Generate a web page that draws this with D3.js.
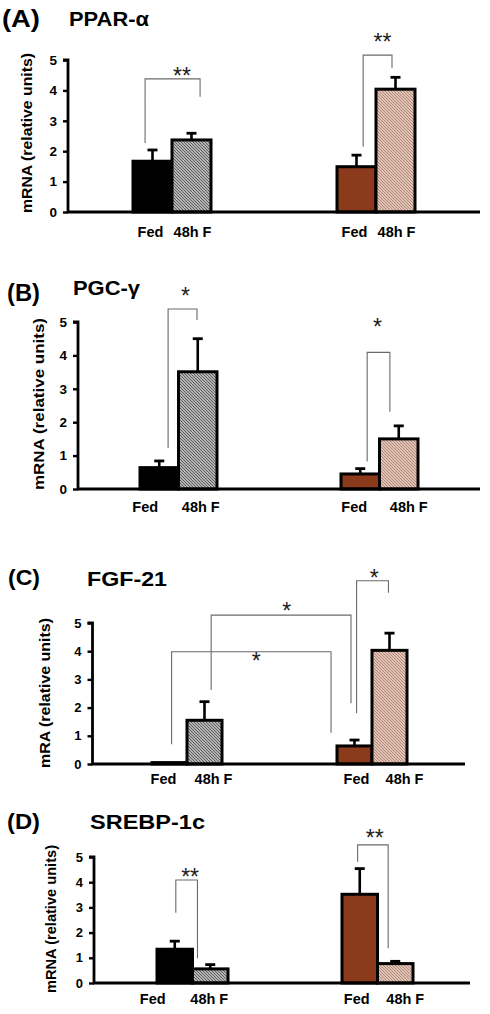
<!DOCTYPE html>
<html><head><meta charset="utf-8">
<script src="https://cdn.jsdelivr.net/npm/d3@7"></script>
<style>
html,body{margin:0;padding:0;background:#fff;}
svg{display:block;font-family:"Liberation Sans",Arial,sans-serif;}
</style></head>
<body>
<svg id="chart" width="490" height="1014"></svg>
<script>
// ---------------- data ----------------
const panelTags = ["(A)", "(B)", "(C)", "(D)"];
const geneNames = ["PPAR-α", "PGC-γ", "FGF-21", "SREBP-1c"];
const yAxisTitles = ["mRNA (relative units)", "mRNA (relative units)", "mRA (relative units)", "mRNA (relative units)"];
const conditions = ["Fed", "48h F"];
const groups = ["group1", "group2"];
const yTickValues = [0, 1, 2, 3, 4, 5];
// bar order: group1 Fed, group1 48h F, group2 Fed, group2 48h F
const valuesA = [1.67, 2.37, 1.49, 4.04];
const errorsA = [0.37, 0.22, 0.38, 0.39];
const valuesB = [0.64, 3.51, 0.45, 1.50];
const errorsB = [0.20, 0.99, 0.16, 0.39];
const valuesC = [0.05, 1.55, 0.64, 4.03];
const errorsC = [0.00, 0.66, 0.21, 0.61];
const valuesD = [1.34, 0.56, 3.52, 0.77];
const errorsD = [0.32, 0.17, 1.02, 0.09];
// significance brackets: ends as [bar, fraction of bar], heights in data units
const bracketsA = [
  {a:[0,0.31], b:[1,0.72], top:4.38, aLow:2.27, bLow:3.79, t:0.67, starY:4.59, label:"**"},
  {a:[2,0.67], b:[3,0.41], top:5.16, aLow:2.15, bLow:4.74, t:0.67, starY:5.72, label:"**"}
];
const bracketsB = [
  {a:[0,0.73], b:[1,0.48], top:5.39, aLow:1.23, bLow:5.06, t:0.6, starY:5.91, label:"*"},
  {a:[2,0.68], b:[3,0.27], top:4.09, aLow:0.82, bLow:2.31, t:0.45, starY:4.97, label:"*"}
];
const bracketsC = [
  {a:[0,0.56], b:[2,-0.17], top:3.98, aLow:0.70, bLow:1.11, t:0.53, starY:3.80, label:"*"},
  {a:[1,0.69], b:[2,0.40], top:5.28, aLow:2.62, bLow:2.15, t:0.54, starY:5.58, label:"*"},
  {a:[2,0.56], b:[3,0.47], top:6.50, aLow:1.80, bLow:6.07, t:0.55, starY:6.74, label:"*"}
];
const bracketsD = [
  {a:[0,0.53], b:[1,0.14], top:4.09, aLow:2.79, bLow:0.98, t:0.66, starY:4.37, label:"**"},
  {a:[2,0.44], b:[3,0.30], top:5.48, aLow:4.81, bLow:1.38, t:0.56, starY:5.91, label:"**"}
];

const allValues = [valuesA, valuesB, valuesC, valuesD];
const allErrors = [errorsA, errorsB, errorsC, errorsD];
const allBrackets = [bracketsA, bracketsB, bracketsC, bracketsD];

// ---------------- layout (positions & styles) ----------------
const layout = [
  {ax:68, y0:212, y5:60, xEnd:480, gr:[133,415], bw:39, lblY:237, lblDx:[-2,1,-2,1],
   tag:{x:2,y:27,fs:24,len:38}, gene:{x:69,y:26,fs:20,len:80},
   yt:{x:27,y:133,len:160}, tickFs:13.5},
  {ax:78, y0:489, y5:322, xEnd:480, gr:[140,418], bw:38.5, lblY:512, lblDx:[-14,3,-6,10],
   tag:{x:7,y:301,fs:24,len:33}, gene:{x:73,y:295,fs:21,len:67},
   yt:{x:39,y:404,len:172}, tickFs:13.5},
  {ax:92.5, y0:764, y5:623, xEnd:465, gr:[152,407], bw:35, lblY:784, lblDx:[-6,9,2,15],
   tag:{x:8,y:585,fs:22,len:32}, gene:{x:87,y:586,fs:21,len:80},
   yt:{x:45,y:693,len:150}, tickFs:13},
  {ax:94, y0:983, y5:857, xEnd:470, gr:[157,413], bw:35.5, lblY:1004, lblDx:[-22,-1,-3,10],
   tag:{x:7,y:829,fs:22,len:33}, gene:{x:90,y:829,fs:21,len:115},
   yt:{x:51,y:919,len:148}, tickFs:13}
];

const fills = ["#000000", "url(#hatchGray)", "#8b3a1b", "url(#hatchPink)"];

const svg = d3.select("#chart");
const defs = svg.append("defs");
function hatch(id, bg, fg) {
  const p = defs.append("pattern").attr("id", id).attr("patternUnits", "userSpaceOnUse")
    .attr("width", 3).attr("height", 3);
  p.append("rect").attr("width", 3).attr("height", 3).attr("fill", bg);
  p.append("path").attr("d", "M0,0 L3,3 M-1,2 L1,4 M2,-1 L4,1")
    .attr("stroke", fg).attr("stroke-width", 1.1);
}
hatch("hatchGray", "#d6d6d6", "#5a5a5a");
hatch("hatchPink", "#f3ddd2", "#b08372");

layout.forEach((L, pi) => {
  const g = svg.append("g");
  const values = allValues[pi], errors = allErrors[pi];
  const y = d3.scaleLinear().domain([0, 5]).range([L.y0, L.y5]);
  const groupW = 2 * L.bw;
  const step = (L.gr[1] - L.gr[0]) - groupW;
  const x0 = d3.scaleBand().domain(groups).range(L.gr).paddingInner(1 - groupW / step).paddingOuter(0);
  const x1 = d3.scaleBand().domain(conditions).range([0, x0.bandwidth()]).padding(0);
  const bars = values.map((v, i) => ({
    v, e: errors[i], i,
    x: x0(groups[Math.floor(i / 2)]) + x1(conditions[i % 2]),
    w: x1.bandwidth(), cond: conditions[i % 2]
  }));
  const barX = (p) => bars[p[0]].x + p[1] * bars[p[0]].w;

  // titles
  g.append("text").attr("x", L.tag.x).attr("y", L.tag.y).attr("font-size", L.tag.fs)
    .attr("font-weight", "bold").attr("textLength", L.tag.len).attr("lengthAdjust", "spacingAndGlyphs")
    .text(panelTags[pi]);
  g.append("text").attr("x", L.gene.x).attr("y", L.gene.y).attr("font-size", L.gene.fs)
    .attr("font-weight", "bold").attr("textLength", L.gene.len).attr("lengthAdjust", "spacingAndGlyphs")
    .text(geneNames[pi]);

  // y axis title
  g.append("text").attr("transform", `translate(${L.yt.x},${L.yt.y}) rotate(-90)`)
    .attr("text-anchor", "middle").attr("dy", "0.35em").attr("font-size", 14.5).attr("font-weight", "bold")
    .attr("textLength", L.yt.len).attr("lengthAdjust", "spacingAndGlyphs")
    .text(yAxisTitles[pi]);

  // error bars (drawn under bar outline)
  bars.forEach(b => {
    if (b.e <= 0) return;
    const cx = b.x + b.w / 2;
    g.append("line").attr("x1", cx).attr("x2", cx).attr("y1", y(b.v)).attr("y2", y(b.v + b.e))
      .attr("stroke", "#000").attr("stroke-width", 2.6);
    g.append("line").attr("x1", cx - 5).attr("x2", cx + 5).attr("y1", y(b.v + b.e)).attr("y2", y(b.v + b.e))
      .attr("stroke", "#000").attr("stroke-width", 2.8);
  });

  // bars
  g.selectAll("rect.bar").data(bars).join("rect").attr("class", "bar")
    .attr("x", d => d.x).attr("width", d => d.w)
    .attr("y", d => y(d.v)).attr("height", d => L.y0 - y(d.v))
    .attr("fill", d => fills[d.i]).attr("stroke", "#000").attr("stroke-width", 3);

  // y axis
  const yAxis = d3.axisLeft(y).tickValues(yTickValues).tickFormat(d3.format("d")).tickSize(5).tickPadding(6);
  const ag = g.append("g").attr("transform", `translate(${L.ax},0)`).call(yAxis);
  ag.select(".domain").attr("stroke", "#000").attr("stroke-width", 2.8).attr("d", `M-5,${L.y5}H0V${L.y0}`);
  ag.selectAll(".tick line").attr("stroke", "#000").attr("stroke-width", 2.4);
  ag.selectAll(".tick text").attr("font-size", L.tickFs).attr("font-weight", "bold")
    .attr("font-family", "Liberation Sans, Arial, sans-serif").attr("fill", "#000");

  // x axis baseline
  g.append("line").attr("x1", L.ax - 1).attr("x2", L.xEnd).attr("y1", L.y0).attr("y2", L.y0)
    .attr("stroke", "#000").attr("stroke-width", 3);

  // condition labels
  bars.forEach((b, i) => {
    g.append("text").attr("x", b.x + b.w / 2 + L.lblDx[i]).attr("y", L.lblY)
      .attr("text-anchor", "middle").attr("font-size", 14.5).attr("font-weight", "bold")
      .text(b.cond);
  });

  // significance brackets
  allBrackets[pi].forEach(k => {
    const xa = barX(k.a), xb = barX(k.b);
    g.append("path").attr("d", `M${xa},${y(k.aLow)}V${y(k.top)}H${xb}V${y(k.bLow)}`)
      .attr("fill", "none").attr("stroke", "#6a6a6a").attr("stroke-width", 1.1);
    g.append("text").attr("x", xa + k.t * (xb - xa)).attr("y", y(k.starY) + 12)
      .attr("text-anchor", "middle").attr("font-size", 23).attr("fill", "#222")
      .text(k.label);
  });
});
</script>
</body></html>
